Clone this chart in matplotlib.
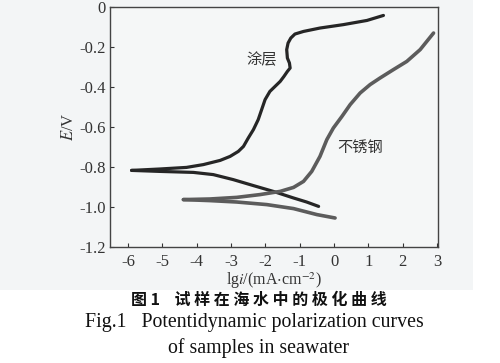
import matplotlib
matplotlib.use('Agg')
import matplotlib.pyplot as plt
from matplotlib.patches import Rectangle

# coating (涂层) curve: anodic branch and cathodic branch, lg i vs E
coat_anodic_x = [-5.90, -5.08, -4.30, -3.81, -3.32, -3.03, -2.79, -2.64, -2.50, -2.35,
                 -2.21, -2.11, -2.01, -1.87, -1.72, -1.57, -1.46, -1.36, -1.28, -1.30,
                 -1.36, -1.38, -1.34, -1.26, -1.14, -0.89, -0.41, 0.27, 0.96, 1.44]
coat_anodic_e = [-0.817, -0.810, -0.802, -0.788, -0.767, -0.747, -0.722, -0.697, -0.655, -0.613,
                 -0.563, -0.513, -0.463, -0.422, -0.397, -0.372, -0.347, -0.322, -0.305, -0.280,
                 -0.255, -0.213, -0.180, -0.155, -0.135, -0.122, -0.105, -0.088, -0.067, -0.042]
coat_cath_x = [-5.90, -5.08, -4.10, -3.52, -2.94, -2.35, -1.77, -1.18, -0.80, -0.45]
coat_cath_e = [-0.817, -0.822, -0.827, -0.838, -0.863, -0.893, -0.922, -0.955, -0.975, -0.997]

# stainless steel (不锈钢) curve
steel_anodic_x = [-4.39, -3.62, -2.84, -2.16, -1.57, -1.18, -0.89, -0.65, -0.41, -0.21,
                  -0.02, 0.23, 0.47, 0.76, 1.05, 1.34, 1.73, 2.12, 2.51, 2.90]
steel_anodic_e = [-0.963, -0.960, -0.952, -0.938, -0.922, -0.902, -0.872, -0.822, -0.747, -0.663,
                  -0.605, -0.547, -0.488, -0.430, -0.388, -0.355, -0.313, -0.272, -0.213, -0.130]
steel_cath_x = [-4.39, -3.62, -2.84, -1.96, -1.18, -0.50, 0.03]
steel_cath_e = [-0.963, -0.968, -0.975, -0.988, -1.008, -1.038, -1.055]

xticks = [-6, -5, -4, -3, -2, -1, 0, 1, 2, 3]
yticks = [0, -0.2, -0.4, -0.6, -0.8, -1.0, -1.2]
ytick_labels = ['0', '-0.2', '-0.4', '-0.6', '-0.8', '-1.0', '-1.2']

plt.rcParams['font.family'] = ['Liberation Serif', 'Noto Sans CJK SC', 'DejaVu Sans']
plt.rcParams['mathtext.fontset'] = 'stix'
plt.rcParams['axes.unicode_minus'] = False

fig = plt.figure(figsize=(5.0, 3.63), dpi=100)
fig.patch.set_facecolor('white')
# light grey tint of the scanned chart area
fig.add_artist(Rectangle((0, 0.2), 0.946, 0.8, transform=fig.transFigure,
                         facecolor='#f3f5f6', edgecolor='none', zorder=0))

ax = fig.add_axes([0.22, 0.3196, 0.656, 0.661])
ax.set_facecolor('#f5f7f7')

ax.plot(coat_anodic_x, coat_anodic_e, color='#262626', lw=2.3, solid_capstyle='round', solid_joinstyle='round')
ax.plot(coat_cath_x, coat_cath_e, color='#262626', lw=2.3, solid_capstyle='round', solid_joinstyle='round')
ax.plot(steel_anodic_x, steel_anodic_e, color='#5c5c5c', lw=2.6, solid_capstyle='round', solid_joinstyle='round')
ax.plot(steel_cath_x, steel_cath_e, color='#5c5c5c', lw=2.6, solid_capstyle='round', solid_joinstyle='round')

ax.text(-2.10, -0.265, '涂层', fontsize=11, color='#333333',
        family=['Noto Sans CJK SC', 'DejaVu Sans'], ha='center', va='center')
ax.text(0.76, -0.70, '不锈钢', fontsize=11, color='#333333',
        family=['Noto Sans CJK SC', 'DejaVu Sans'], ha='center', va='center')

ax.set_xlim(-6.53, 3.03)
ax.set_ylim(-1.2, 0.0)
ax.set_xticks(xticks)
ax.set_yticks(yticks)
ax.set_yticklabels(ytick_labels)
ax.tick_params(direction='in', length=3, width=0.8, labelsize=12, colors='#333333')
ax.tick_params(axis='x', pad=5)
ax.tick_params(axis='y', pad=3)
for s in ax.spines.values():
    s.set_color('#444444')
    s.set_linewidth(1.0)

ax.set_ylabel(r'$E$/V', fontsize=12, color='#333333', labelpad=2)
ax.set_xlabel(r'lg$i$/(mA$\cdot$cm$^{-2}$)', fontsize=11.5, color='#333333', labelpad=0)

fig.text(0.518, 0.174, '图 1    试 样 在 海 水 中 的 极 化 曲 线', fontsize=11.5, fontweight='bold',
         family=['Noto Sans CJK SC', 'DejaVu Sans'], ha='center', va='center', color='#111111')
fig.text(0.509, 0.111, 'Fig.1   Potentidynamic polarization curves', fontsize=14.3,
         ha='center', va='center', color='#111111')
fig.text(0.517, 0.040, 'of samples in seawater', fontsize=14.3,
         ha='center', va='center', color='#111111')

fig.savefig('out.png', dpi=100)
